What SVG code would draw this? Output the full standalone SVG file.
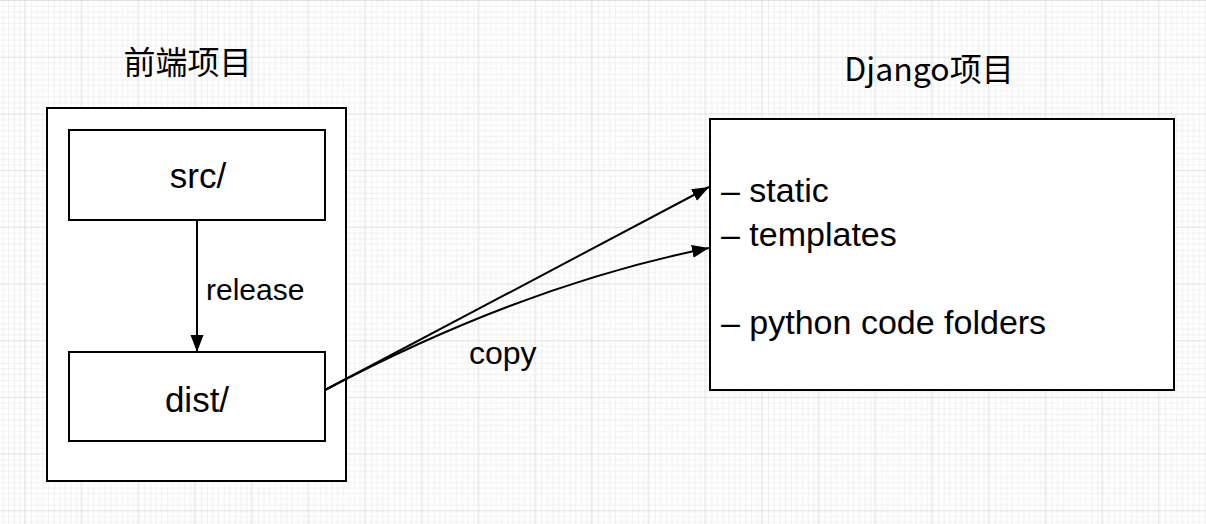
<svg xmlns="http://www.w3.org/2000/svg" width="1206" height="524" viewBox="0 0 1206 524">
  <defs>
    <pattern id="minor" width="5.67" height="5.67" patternUnits="userSpaceOnUse" patternTransform="translate(24,0)">
      <path d="M0,0 H5.67 M0,0 V5.67" stroke="#e4e4e4" stroke-width="1" fill="none"/>
    </pattern>
    <pattern id="major" width="56.7" height="56.7" patternUnits="userSpaceOnUse" patternTransform="translate(24,0)">
      <rect width="56.7" height="56.7" fill="url(#minor)"/>
      <path d="M0,0 H56.7 M0,0 V56.7" stroke="#d3d3d3" stroke-width="1" fill="none"/>
    </pattern>
    <marker id="arrow" markerUnits="userSpaceOnUse" markerWidth="18" markerHeight="14" refX="17" refY="6.5" orient="auto">
      <path d="M0,0 L17,6.5 L0,13 Z" fill="#000"/>
    </marker>
  </defs>
  <style>
    .box { fill: #ffffff; stroke: #000000; stroke-width: 2; }
    .lbl { font-family: "Liberation Sans", Arial, sans-serif; fill: #000; }
    .title { font-family: "Noto Sans CJK SC", "Noto Sans", sans-serif; font-size: 32px; fill: #000; }
    .edge { fill: none; stroke: #000; stroke-width: 2; }
  </style>
  <rect width="1206" height="524" fill="#ffffff"/>
  <rect width="1206" height="524" fill="url(#major)"/>

  <g id="frontend-title">
    <text class="title" x="187.5" y="74" text-anchor="middle">前端项目</text>
  </g>
  <g id="frontend">
    <rect class="box" x="47" y="108" width="299" height="373"/>
  </g>
  <g id="src">
    <rect class="box" x="69" y="130" width="256" height="90"/>
    <text class="lbl" x="198" y="188" font-size="35" text-anchor="middle">src/</text>
  </g>
  <g id="dist">
    <rect class="box" x="69" y="352" width="256" height="89"/>
    <text class="lbl" x="197" y="412" font-size="35" text-anchor="middle">dist/</text>
  </g>
  <g id="django-title">
    <text class="title" x="929" y="81" text-anchor="middle">Django项目</text>
  </g>
  <g id="django">
    <rect class="box" x="710" y="119" width="464" height="271"/>
    <text class="lbl" x="721" y="202" font-size="34">– static</text>
    <text class="lbl" x="721" y="246" font-size="34">– templates</text>
    <text class="lbl" x="721" y="334" font-size="34">– python code folders</text>
  </g>

  <g id="connectors">
    <path class="edge" d="M197,220 L197,352" marker-end="url(#arrow)"/>
    <text class="lbl" x="206" y="300" font-size="30">release</text>
    <path class="edge" d="M325,390 L709,187" marker-end="url(#arrow)"/>
    <path class="edge" d="M325,390 Q524,285 709,248" marker-end="url(#arrow)"/>
    <text class="lbl" x="469" y="364" font-size="32">copy</text>
  </g>
</svg>
